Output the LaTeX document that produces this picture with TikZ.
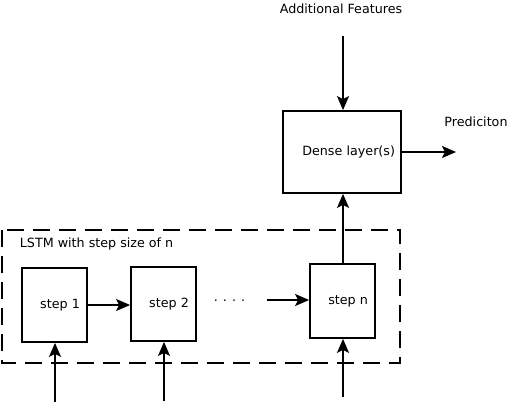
\documentclass[tikz,border=0pt]{standalone}
\usepackage{fontspec}
\setmainfont{DejaVu Sans}
\usetikzlibrary{arrows.meta}
\begin{document}
\begin{tikzpicture}[x=1pt,y=-1pt,>={Stealth[length=14pt,width=12pt,inset=3pt]},line width=1.8pt,
  font=\fontsize{12.7}{15}\selectfont,
  stepbox/.style={draw,inner xsep=7pt,inner ysep=0pt,text width=51pt,align=right,minimum height=74pt},
  densebox/.style={draw,inner xsep=6pt,inner ysep=0pt,text width=106pt,align=right,minimum height=82pt},
  lstmframe/.style={draw,dash pattern=on 17pt off 9pt}]
  \useasboundingbox (0,0) rectangle (508,403);
  % dashed frame of the LSTM
  \draw[lstmframe] (2,230) rectangle (400,363);
  \node[anchor=west,inner sep=0pt] (lstm) at (19,244) {LSTM with step size of n};
  \node[stepbox] (s1) at (54.5,305) {step 1};
  \node[stepbox] (s2) at (163.5,304) {step 2};
  \node[inner sep=0pt] (dots) at (229.5,301) {.\hspace{5pt}.\hspace{5pt}.\hspace{5pt}.};
  \node[stepbox] (sn) at (342.5,301) {step n};
  \node[densebox] (dense) at (342,152) {Dense layer(s)};
  \node[inner sep=0pt] (feat) at (341,9) {Additional Features};
  \node[inner sep=0pt] (pred) at (476,122) {Prediciton};
  \coordinate (featend) at (343,36);
  \coordinate (predend) at (456,152);
  \coordinate (dotsend) at (267,300);
  \coordinate (in1) at (55,402);
  \coordinate (in2) at (164,401);
  \coordinate (inn) at (343,397);
  \draw[->] (s1) -- (s2.west |- s1);
  \draw[->] (dotsend) -- (sn.west |- dotsend);
  \draw[->] (sn.north -| featend) -- (featend |- dense.south);
  \draw[->] (featend) -- (featend |- dense.north);
  \draw[->] (dense) -- (predend);
  \draw[->] (in1) -- (in1 |- s1.south);
  \draw[->] (in2) -- (in2 |- s2.south);
  \draw[->] (inn) -- (inn |- sn.south);
\end{tikzpicture}
\end{document}
